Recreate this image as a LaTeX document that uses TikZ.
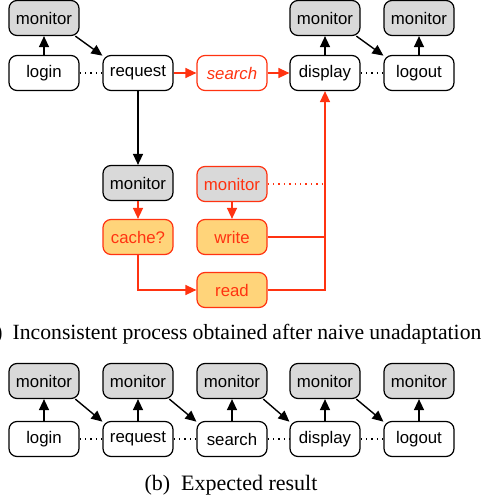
\documentclass[tikz,border=0pt]{standalone}
\usepackage{fontspec}
\setmainfont{Liberation Serif}
\setsansfont{Liberation Sans}
\usepackage{xcolor}
\usepackage{tikz}
\usetikzlibrary{arrows.meta}
\usetikzlibrary{positioning}

\definecolor{monfill}{RGB}{217,217,217}
\definecolor{redline}{RGB}{255,51,17}
\definecolor{orfill}{RGB}{255,212,122}

\tikzset{
  box/.style={draw, rounded corners=4pt, minimum width=35pt, minimum height=17.5pt,
    inner sep=0pt, line width=0.6pt, font=\sffamily\fontsize{8.4}{10}\selectfont},
  mon/.style={box, fill=monfill},
  redbox/.style={box, draw=redline, text=redline},
  orbox/.style={redbox, fill=orfill},
  arr/.style={-{Triangle[length=5.5pt,width=5pt]}, line width=0.7pt},
  redarr/.style={arr, color=redline},
  dots/.style={dotted, line width=0.7pt},
  caption/.style={font=\fontsize{11}{13}\selectfont, inner sep=0pt}
}

\begin{document}
\begin{tikzpicture}[x=0.5pt,y=-0.5pt]
\useasboundingbox (0,0) rectangle (484,503);

% (a) after naive unadaptation
\node [mon] (amon1) at (44,18) {monitor};
\node [box] (alogin) at (44,73) {login};
\node [box] (arequest) at (138,73) {request};
\node [redbox,font=\sffamily\itshape\fontsize{8.4}{10}\selectfont] (asearch) at (232,73) {search};
\node [box] (adisplay) at (325,73) {display};
\node [box] (alogout) at (419,73) {logout};
\node [mon] (amon4) at (325,18) {monitor};
\node [mon] (amon5) at (419,18) {monitor};

\node [mon] (amon2) at (138,183) {monitor};
\node [orbox] (acache) at (138,237) {cache?};
\node [redbox,fill=monfill] (amon3) at (232,184) {monitor};
\node [orbox] (awrite) at (232,237) {write};
\node [orbox] (aread) at (232,290) {read};

\draw [arr] (alogin) -- (amon1);
\draw [arr] (amon1.-30) -- (arequest.154);
\draw [dots] (alogin) -- (arequest);
\draw [redarr] (arequest) -- (asearch);
\draw [redarr] (asearch) -- (adisplay);
\draw [dots] (adisplay) -- (alogout);
\draw [arr] (adisplay) -- (amon4);
\draw [arr] (amon4.-30) -- (alogout.154);
\draw [arr] (alogout) -- (amon5);

\draw [arr] (arequest) -- (amon2);
\draw [redarr] (amon2) -- (acache);
\draw [redarr] (acache.south) |- (aread.west);
\draw [redarr] (amon3) -- (awrite);
\draw [redarr] (aread.east) -| (adisplay.south);
\draw [redline,line width=0.7pt] (awrite.east) -- (awrite.east -| adisplay.south);
\draw [dots,redline] (amon3.east) -- (amon3.east -| adisplay.south);

\node [caption,font=\fontsize{10.85}{13}\selectfont,anchor=west] (capa) at (-22,334)
  {\makebox[251.5pt][s]{(a)~~Inconsistent process obtained after naive unadaptation}};

% (b) expected result
\node [mon] (bmon1) at (44,381) {monitor};
\node [mon] (bmon2) at (138,381) {monitor};
\node [mon] (bmon3) at (232,381) {monitor};
\node [mon] (bmon4) at (325,381) {monitor};
\node [mon] (bmon5) at (419,381) {monitor};
\node [box] (blogin) at (44,439) {login};
\node [box] (brequest) at (138,439) {request};
\node [box] (bsearch) at (232,439) {search};
\node [box] (bdisplay) at (325,439) {display};
\node [box] (blogout) at (419,439) {logout};

\draw [arr] (blogin) -- (bmon1);
\draw [arr] (brequest) -- (bmon2);
\draw [arr] (bsearch) -- (bmon3);
\draw [arr] (bdisplay) -- (bmon4);
\draw [arr] (blogout) -- (bmon5);
\draw [arr] (bmon1.-30) -- (brequest.154);
\draw [arr] (bmon2.-30) -- (bsearch.154);
\draw [arr] (bmon3.-30) -- (bdisplay.154);
\draw [arr] (bmon4.-30) -- (blogout.154);
\draw [dots] (blogin) -- (brequest);
\draw [dots] (brequest) -- (bsearch);
\draw [dots] (bsearch) -- (bdisplay);
\draw [dots] (bdisplay) -- (blogout);

\node [caption] (capb) at (231,485) {(b)~~Expected result};
\end{tikzpicture}
\end{document}
